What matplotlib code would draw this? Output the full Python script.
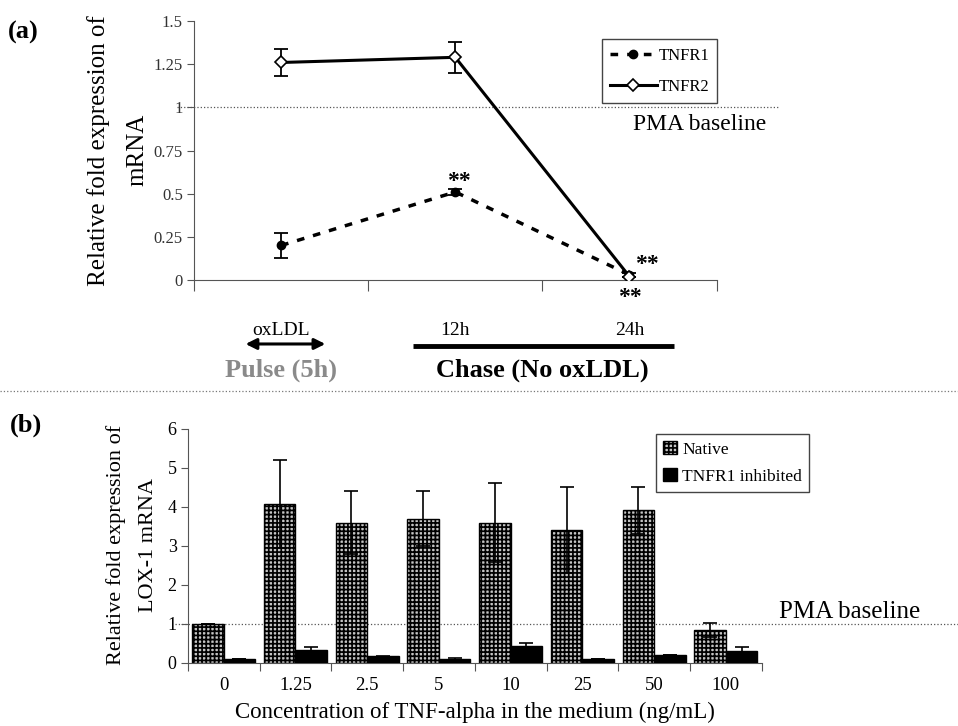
import matplotlib
matplotlib.use("Agg")
import matplotlib.pyplot as plt
import matplotlib.transforms as mtransforms
from matplotlib.patches import Patch
import numpy as np

plt.rcParams["font.family"] = ["Liberation Serif", "DejaVu Serif"]
plt.rcParams["hatch.linewidth"] = 1.25

# panel (a): pulse-chase time course
TIME_LABELS = ["oxLDL", "12h", "24h"]
TNFR1 = [0.20, 0.51, 0.03]
TNFR1_ERR = [0.07, 0.02, 0.01]
TNFR2 = [1.26, 1.29, 0.02]
TNFR2_ERR = [0.08, 0.09, 0.0]
A_YTICKS = [0, 0.25, 0.5, 0.75, 1, 1.25, 1.5]
A_YTICK_LABELS = ["0", "0.25", "0.5", "0.75", "1", "1.25", "1.5"]

# panel (b): LOX-1 vs TNF-alpha concentration
CONC_LABELS = ["0", "1.25", "2.5", "5", "10", "25", "50", "100"]
NATIVE = [1.0, 4.08, 3.6, 3.7, 3.6, 3.4, 3.92, 0.85]
NATIVE_ERR = [0.0, 1.12, 0.8, 0.7, 1.02, 1.1, 0.6, 0.18]
INHIBITED = [0.1, 0.33, 0.17, 0.1, 0.43, 0.1, 0.2, 0.3]
INHIBITED_ERR = [0.0, 0.07, 0.02, 0.02, 0.08, 0.0, 0.0, 0.11]

NATIVE_FACE = "#c4c4c4"
NATIVE_HATCH = "++++"

fig = plt.figure(figsize=(9.58, 7.26), dpi=100)

# ---------------- panel (a) ----------------
ax = fig.add_axes([0.2025, 0.6143, 0.5455, 0.3567])
x = np.arange(len(TIME_LABELS)) + 0.5
l1, = ax.plot(x, TNFR1, color="black", lw=2.5, ls=(0, (2.2, 2.6)),
              marker="o", ms=6, mfc="black", mec="black", zorder=3)
ax.errorbar(x, TNFR1, yerr=TNFR1_ERR, fmt="none", ecolor="black",
            elinewidth=1.3, capsize=5, capthick=1.3, zorder=2)
l2, = ax.plot(x, TNFR2, color="black", lw=2.2, marker="D", ms=6,
              mfc="white", mec="black", mew=1.2, zorder=4)
ax.errorbar(x, TNFR2, yerr=TNFR2_ERR, fmt="none", ecolor="black",
            elinewidth=1.3, capsize=5, capthick=1.3, zorder=2)

ax.set_xlim(0, 3)
ax.set_ylim(0, 1.5)
ax.set_yticks(A_YTICKS, A_YTICK_LABELS)
ax.set_xticks([0, 1, 2, 3], [])
ax.set_xticks(x, TIME_LABELS, minor=True)
ax.tick_params(axis="x", which="major", length=8, color="#555555")
ax.tick_params(axis="x", which="minor", length=0, pad=30, labelsize=14)
ax.tick_params(axis="y", length=5, color="#555555", labelsize=12,
               labelcolor="#333333", pad=3)
for side in ("top", "right"):
    ax.spines[side].set_visible(False)
for side in ("left", "bottom"):
    ax.spines[side].set_color("#555555")

ax.plot([-0.1, 3.36], [1, 1], color="#555555", lw=0.9, ls=":",
        clip_on=False, zorder=1)
ax.text(2.52, 0.9, "PMA baseline", fontsize=17, va="center", ha="left")

for xs, ys in [(1.52, 0.57), (2.6, 0.09), (2.5, -0.1)]:
    ax.text(xs, ys, "**", fontsize=17, fontweight="bold", ha="center",
            va="center", clip_on=False)

ax.legend([l1, l2], ["TNFR1", "TNFR2"], loc="upper left",
          bbox_to_anchor=(0.628, 0.946), bbox_transform=fig.transFigure,
          borderaxespad=0, fancybox=False, edgecolor="#444444",
          fontsize=12, handlelength=2.8, handletextpad=0.1, borderpad=0.5,
          labelspacing=0.9, framealpha=1)

trans = mtransforms.blended_transform_factory(ax.transData, ax.transAxes)
ax.annotate("", xy=(0.28, -0.247), xytext=(0.77, -0.247),
            xycoords=trans, textcoords=trans,
            arrowprops=dict(arrowstyle="<|-|>", color="black", lw=2.2,
                            mutation_scale=16))
ax.text(0.5, -0.35, "Pulse (5h)", transform=trans, ha="center",
        va="center", fontsize=19, fontweight="bold", color="#8a8a8a")
ax.plot([1.256, 2.754], [-0.255, -0.255], transform=trans, color="black",
        lw=3.5, clip_on=False, solid_capstyle="butt")
ax.text(2.0, -0.35, "Chase (No oxLDL)", transform=trans, ha="center",
        va="center", fontsize=19, fontweight="bold")

fig.text(0.123, 0.793, "Relative fold expression of\nmRNA", rotation=90,
         ha="center", va="center", fontsize=18, linespacing=1.95,
         multialignment="center")
fig.text(0.008, 0.955, "(a)", fontsize=19, fontweight="bold", va="center")

# separator between panels
fig.add_artist(plt.Line2D([0, 1], [0.4614, 0.4614], color="#777777",
                          lw=0.9, ls=":", transform=fig.transFigure))

# ---------------- panel (b) ----------------
bx = fig.add_axes([0.196, 0.0868, 0.5992, 0.3223])
pos = np.arange(len(CONC_LABELS)) + 0.5
w = 0.44
bx.bar(pos - w / 2, NATIVE, w, color=NATIVE_FACE, edgecolor="black",
       hatch=NATIVE_HATCH, lw=1, zorder=2)
bx.bar(pos + w / 2, INHIBITED, w, color="black", edgecolor="black", lw=1,
       zorder=3)
bx.errorbar(pos - w / 2, NATIVE, yerr=NATIVE_ERR, fmt="none",
            ecolor="black", elinewidth=1.2, capsize=5, capthick=1.2,
            zorder=4)
bx.errorbar(pos + w / 2, INHIBITED, yerr=INHIBITED_ERR, fmt="none",
            ecolor="black", elinewidth=1.2, capsize=5, capthick=1.2,
            zorder=4)

bx.set_xlim(0, 8)
bx.set_ylim(0, 6)
bx.set_yticks(range(7))
bx.set_xticks(range(9), [])
bx.set_xticks(pos, CONC_LABELS, minor=True)
bx.tick_params(axis="x", which="major", length=6, color="#555555")
bx.tick_params(axis="x", which="minor", length=0, pad=10, labelsize=13.5)
bx.tick_params(axis="y", length=5, color="#555555", labelsize=13, pad=3)
for side in ("top", "right"):
    bx.spines[side].set_visible(False)
for side in ("left", "bottom"):
    bx.spines[side].set_color("#555555")

bx.plot([-0.18, 10.73], [1, 1], color="#555555", lw=0.9, ls=":",
        clip_on=False, zorder=1)
bx.text(8.24, 1.31, "PMA baseline", fontsize=18, va="center", ha="left")

h_native = Patch(facecolor=NATIVE_FACE, edgecolor="black",
                 hatch=NATIVE_HATCH, lw=1)
h_inhib = Patch(facecolor="black", edgecolor="black")
bx.legend([h_native, h_inhib], ["Native", "TNFR1 inhibited"],
          loc="upper left", bbox_to_anchor=(0.685, 0.402),
          bbox_transform=fig.transFigure, borderaxespad=0, fancybox=False,
          edgecolor="#444444", fontsize=12.5, handlelength=0.8,
          handleheight=0.8, handletextpad=0.3, borderpad=0.4,
          labelspacing=0.6, framealpha=1)

bx.set_xlabel("Concentration of TNF-alpha in the medium (ng/mL)",
              fontsize=16.5, labelpad=6)
fig.text(0.138, 0.25, "Relative fold expression of\nLOX-1 mRNA",
         rotation=90, ha="center", va="center", fontsize=16,
         linespacing=1.95, multialignment="center")
fig.text(0.01, 0.414, "(b)", fontsize=19, fontweight="bold", va="center")

fig.savefig("out.png", dpi=100)
